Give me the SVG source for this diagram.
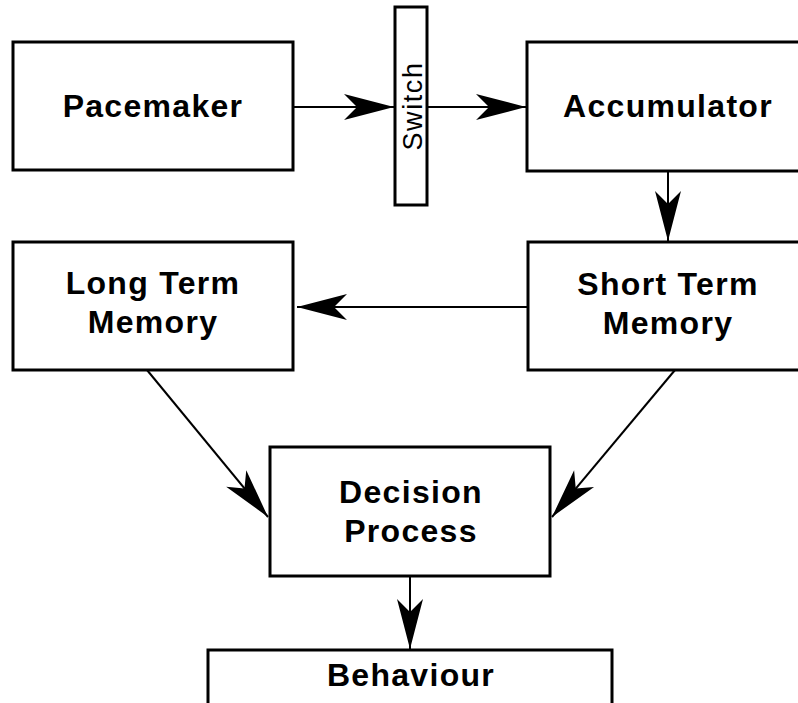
<svg xmlns="http://www.w3.org/2000/svg" width="798" height="703" viewBox="0 0 798 703">
<style>
.box{fill:#fff;stroke:#000;stroke-width:3}
.lbl{font-family:"Liberation Sans",Arial,sans-serif;font-weight:bold;font-size:32px;letter-spacing:1.3px;text-anchor:middle;fill:#000}
.sw{font-family:"Liberation Sans",Arial,sans-serif;font-size:27px;letter-spacing:1.6px;text-anchor:middle;fill:#000}
.conn{stroke:#000;stroke-width:2;fill:none;marker-end:url(#ah)}
</style>
<defs>
<marker id="ah" markerUnits="userSpaceOnUse" markerWidth="52" markerHeight="30" viewBox="-51 -15 52 30" refX="0" refY="0" orient="auto">
<path d="M0,0 L-50,-13 L-37,0 L-50,13 Z" fill="#000"/>
</marker>
</defs>
<rect width="798" height="703" fill="#fff"/>
<g id="connectors">
<line class="conn" x1="293" y1="107" x2="394" y2="107"/>
<line class="conn" x1="427" y1="107" x2="526" y2="107"/>
<line class="conn" x1="668" y1="171" x2="668" y2="241"/>
<line class="conn" x1="528" y1="307" x2="297" y2="307"/>
<line class="conn" x1="147" y1="370" x2="268" y2="517"/>
<line class="conn" x1="675" y1="370" x2="552" y2="517"/>
<line class="conn" x1="410" y1="576" x2="410" y2="649"/>
</g>
<g id="pacemaker">
<rect class="box" x="13" y="42" width="280" height="128"/>
<text class="lbl" x="153" y="117">Pacemaker</text>
</g>
<g id="switch">
<rect class="box" x="395" y="7" width="32" height="198"/>
<text class="sw" transform="translate(422,106) rotate(-90)">Switch</text>
</g>
<g id="accumulator">
<rect class="box" x="527" y="42" width="280" height="129"/>
<text class="lbl" x="668" y="117">Accumulator</text>
</g>
<g id="short-term-memory">
<rect class="box" x="528" y="242" width="280" height="128"/>
<text class="lbl" x="668" y="295">Short Term</text>
<text class="lbl" x="668" y="334">Memory</text>
</g>
<g id="long-term-memory">
<rect class="box" x="13" y="242" width="280" height="128"/>
<text class="lbl" x="153" y="294">Long Term</text>
<text class="lbl" x="153" y="333">Memory</text>
</g>
<g id="decision-process">
<rect class="box" x="270" y="447" width="280" height="129"/>
<text class="lbl" x="411" y="503">Decision</text>
<text class="lbl" x="411" y="542">Process</text>
</g>
<g id="behaviour">
<rect class="box" x="208" y="650" width="404" height="80"/>
<text class="lbl" x="411" y="686">Behaviour</text>
</g>
</svg>
